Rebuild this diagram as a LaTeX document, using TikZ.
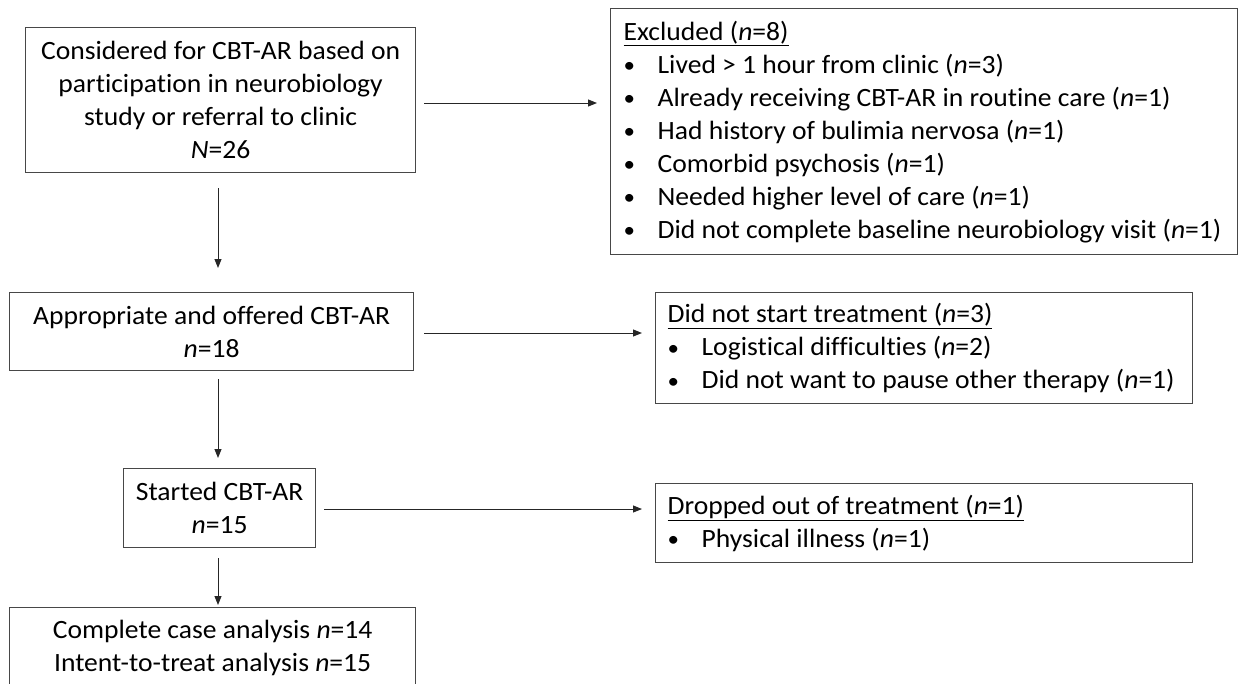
\documentclass[tikz,border=0pt]{standalone}
\usepackage{fontspec}
\setmainfont{Carlito}[FakeStretch=1.045, Ligatures=NoCommon]
\usetikzlibrary{arrows.meta,calc}
\newcommand\myfs{\fontsize{26.4}{33}\selectfont}
\newcommand\bul{\makebox[34pt][l]{\raisebox{0.5pt}{\fontsize{22}{22}\selectfont •}}}
\newcommand\oneline[1]{\mbox{#1}}
\begin{document}
\begin{tikzpicture}[x=1pt,y=-1pt,
  box/.style={draw=black!72, line width=1.3pt, inner sep=0pt, font=\myfs, anchor=north west},
  cbox/.style={box, align=flush center},
  lbox/.style={box, align=flush left, inner xsep=12pt},
  arr/.style={draw=black!85, line width=1pt, -{Triangle[length=9pt,width=7pt]}},
]
\useasboundingbox (0,0) rectangle (1241,683);
\clip (0,0) rectangle (1241,683);

\node[cbox, minimum width=390pt, minimum height=145pt] (b1) at (25,27)
  {Considered for CBT-AR based on\\participation in neurobiology\\study or referral to clinic\\\textit{N}=26};
\node[cbox, minimum width=404pt, minimum height=78pt] (b2) at (9,292)
  {Appropriate and offered CBT-AR\\\textit{n}=18};
\node[cbox, minimum width=192pt, minimum height=79pt] (b3) at (123,468)
  {Started CBT-AR\\\textit{n}=15};
\node[cbox, minimum width=406pt, minimum height=81pt] (b4) at (9,607)
  {Complete case analysis \textit{n}=14\\Intent-to-treat analysis \textit{n}=15};

\node[lbox, text width=601pt, inner xsep=13pt, minimum height=246pt] (ex) at (610,8)
  {\oneline{\underline{Excluded (\textit{n}=8)}}\\
   \oneline{\bul Lived > 1 hour from clinic (\textit{n}=3)}\\
   \oneline{\bul Already receiving CBT-AR in routine care (\textit{n}=1)}\\
   \oneline{\bul Had history of bulimia nervosa (\textit{n}=1)}\\
   \oneline{\bul Comorbid psychosis (\textit{n}=1)}\\
   \oneline{\bul Needed higher level of care (\textit{n}=1)}\\
   \oneline{\bul Did not complete baseline neurobiology visit (\textit{n}=1)}};
\node[lbox, text width=513pt, minimum height=111pt] (ds) at (655,292)
  {\oneline{\underline{Did not start treatment (\textit{n}=3)}}\\
   \oneline{\bul Logistical difficulties (\textit{n}=2)}\\
   \oneline{\bul Did not want to pause other therapy (\textit{n}=1)}};
\node[lbox, text width=513pt, minimum height=79pt] (dr) at (655,483)
  {\oneline{\underline{Dropped out of treatment (\textit{n}=1)}}\\
   \oneline{\bul Physical illness (\textit{n}=1)}};

\coordinate (ax) at (218,0);
\coordinate (y1) at (0,103);
\coordinate (y2) at (0,333);
\coordinate (y3) at (0,509);

\draw[arr, shorten <=15pt, shorten >=24pt] (b1.south -| ax) -- (b2.north -| ax);
\draw[arr, shorten <=8pt, shorten >=10pt] (b2.south -| ax) -- (b3.north -| ax);
\draw[arr, shorten <=10pt, shorten >=2pt] (b3.south -| ax) -- (b4.north -| ax);

\draw[arr, shorten <=8pt, shorten >=13pt] (b1.east |- y1) -- (ex.west |- y1);
\draw[arr, shorten <=10pt, shorten >=13pt] (b2.east |- y2) -- (ds.west |- y2);
\draw[arr, shorten <=8pt, shorten >=13pt] (b3.east |- y3) -- (dr.west |- y3);
\end{tikzpicture}
\end{document}
